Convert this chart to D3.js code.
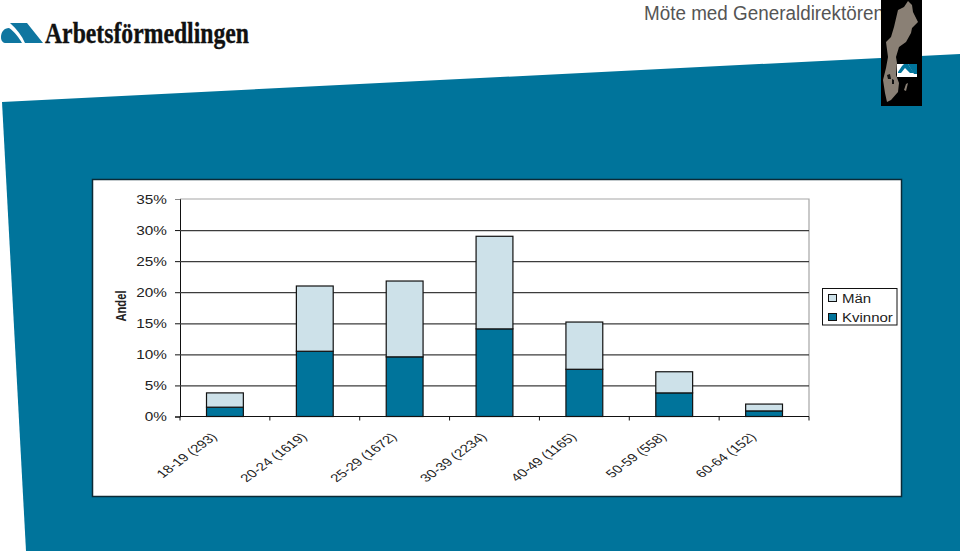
<!DOCTYPE html>
<html><head><meta charset="utf-8">
<script src="https://cdnjs.cloudflare.com/ajax/libs/d3/7.8.5/d3.min.js"></script>
<style>
html,body{margin:0;padding:0;background:#fff;overflow:hidden}
svg{display:block}
text{font-family:"Liberation Sans",Arial,sans-serif}
</style></head><body>
<svg id="c" width="960" height="551"></svg>
<script>
const categories=["18-19 (293)","20-24 (1619)","25-29 (1672)","30-39 (2234)","40-49 (1165)","50-59 (558)","60-64 (152)"];
const kvinnor=[1.5,10.5,9.6,14.1,7.6,3.8,0.9];
const man=[2.3,10.5,12.2,14.9,7.6,3.4,1.1];
const yTicks=[0,5,10,15,20,25,30,35];
const seriesNames=["Män","Kvinnor"];
const BLUE="#00749b",LIGHT="#cde1e9",INK="#111";

const svg=d3.select("#c");
svg.append("rect").attr("width",960).attr("height",551).attr("fill","#fff");
svg.append("path").attr("d","M2,102L960,54V551H26Z").attr("fill",BLUE);

// Logo
const logo=svg.append("g");
logo.append("path").attr("fill","#0f76a0").attr("d","M10,23H27L43,43H25C22,36 17,29 10,23Z");
logo.append("path").attr("fill","#0f76a0").attr("d","M1,37C1,32 4,28 9,28C14,31 19,38 22,43H6C3,43 1,41 1,37Z");
logo.append("text").attr("x",45).attr("y",43).attr("font-size",29).attr("font-weight","bold")
  .attr("fill","#111").attr("stroke","#111").attr("stroke-width",.35).attr("textLength",204).attr("lengthAdjust","spacingAndGlyphs")
  .style("font-family","'Liberation Serif',serif").text("Arbetsförmedlingen");

// Header
svg.append("text").attr("x",644).attr("y",20).attr("font-size",20)
  .attr("textLength",240).attr("lengthAdjust","spacingAndGlyphs")
  .attr("fill","#555").text("Möte med Generaldirektören");

// Map of Sweden
const map=svg.append("g");
map.append("rect").attr("x",881).attr("y",0).attr("width",41).attr("height",106).attr("fill","#000");
map.append("path").attr("fill","#8a8075").attr("d","M908,1L912,5L913,12L918,22L912,28L911,33L906,42L899,47L896,57L897,63L896,75L899,83L898,92L891,100L887,102L885,93L883,80L886,68L888,57L886,42L891,37L894,27L898,10L904,7Z");
map.append("path").attr("fill","#111").attr("d","M887,75L890,74L891,79L888,79Z");
map.append("path").attr("fill","#111").attr("d","M892,79L894,80L894,84L892,84Z");
map.append("path").attr("fill","#8a8075").attr("d","M906,84L908,83L906,91L904,90Z");
map.append("rect").attr("x",897).attr("y",64).attr("width",20).attr("height",13).attr("fill","#fff");
map.append("path").attr("fill",BLUE).attr("d","M898,72L902,66L904,64H908L914,73H910L905,68L901,73H898Z");
map.append("path").attr("fill",BLUE).attr("d","M908,64H917V74H914Z");

// Chart frame
svg.append("rect").attr("x",92.5).attr("y",179.5).attr("width",809).attr("height",317)
  .attr("fill","#fff").attr("stroke","#0b2a36").attr("stroke-width",1.5);

const m={l:180,r:809,t:199,b:416.5};
const x=d3.scaleBand().domain(categories).range([m.l,m.r]).paddingInner(0.59).paddingOuter(0.295);
const y=d3.scaleLinear().domain([0,35]).range([m.b,m.t]);
const step=x.step();

svg.append("path").attr("d",`M${m.l},${m.t}H${m.r}V${m.b}`).attr("fill","none").attr("stroke","#a6a6a6").attr("stroke-width",1.2);
const yAxis=d3.axisLeft(y).tickValues(yTicks).tickFormat(d=>d+"%").tickSize(5).tickPadding(0);
const gy=svg.append("g").attr("transform",`translate(${m.l},0)`).call(yAxis);
gy.select(".domain").attr("stroke",INK);
gy.selectAll(".tick line").attr("stroke",INK);
gy.selectAll(".tick text").remove();
gy.selectAll(".tick").filter(d=>d>0&&d<35).append("line").attr("x1",0).attr("x2",m.r-m.l).attr("stroke","#3c3c3c").attr("stroke-width",1.2);
gy.selectAll(".tick").filter(d=>d===35).select("line").attr("stroke","#888");
svg.selectAll("text.yl").data(yTicks).join("text").attr("class","yl")
  .attr("text-anchor","end").attr("font-size",13).attr("fill","#222")
  .attr("transform",d=>`translate(167,${y(d)+4.5}) scale(1.18,1)`)
  .text(d=>d+"%");

// Bars
const stack=categories.map((c,i)=>({c,k:kvinnor[i],m:man[i]}));
const bw=x.bandwidth();
svg.selectAll("rect.k").data(stack).join("rect").attr("class","k")
  .attr("x",d=>x(d.c)).attr("width",bw).attr("y",d=>y(d.k)).attr("height",d=>y(0)-y(d.k))
  .attr("fill",BLUE).attr("stroke",INK).attr("stroke-width",1.2);
svg.selectAll("rect.m").data(stack).join("rect").attr("class","m")
  .attr("x",d=>x(d.c)).attr("width",bw).attr("y",d=>y(d.k+d.m)).attr("height",d=>y(d.k)-y(d.k+d.m))
  .attr("fill",LIGHT).attr("stroke",INK).attr("stroke-width",1.2);

// X axis
const ticksX=d3.range(categories.length+1).map(i=>m.l+i*step);
svg.append("line").attr("x1",m.l).attr("x2",m.r).attr("y1",m.b).attr("y2",m.b).attr("stroke",INK).attr("stroke-width",1.2);
svg.selectAll("line.xt").data(ticksX).join("line").attr("class","xt")
  .attr("x1",d=>d).attr("x2",d=>d).attr("y1",m.b).attr("y2",m.b+4).attr("stroke",INK);
svg.selectAll("text.xl").data(categories).join("text").attr("class","xl")
  .attr("text-anchor","end").attr("font-size",14).attr("fill","#222")
  .attr("transform",d=>`translate(${x(d)+bw/2-7},${m.b+21}) scale(1.08,.8) rotate(-45)`)
  .text(d=>d);

// Y title
svg.append("text").attr("transform","translate(126,306) rotate(-90)").attr("text-anchor","middle")
  .attr("font-size",15).attr("font-weight","bold").attr("fill","#222")
  .attr("textLength",31).attr("lengthAdjust","spacingAndGlyphs").text("Andel");

// Legend
svg.append("rect").attr("x",822.5).attr("y",288.5).attr("width",74.5).attr("height",36.5)
  .attr("fill","#fff").attr("stroke",INK);
seriesNames.forEach((n,i)=>{
  const yy=[298,317][i];
  svg.append("rect").attr("x",828.5).attr("y",yy-3.5).attr("width",8).attr("height",7)
    .attr("fill",i?BLUE:LIGHT).attr("stroke",INK);
  svg.append("text").attr("transform",`translate(842,${yy+4.5}) scale(1.25,1)`).attr("font-size",12)
    .attr("fill","#222").text(n);
});
</script></body></html>
